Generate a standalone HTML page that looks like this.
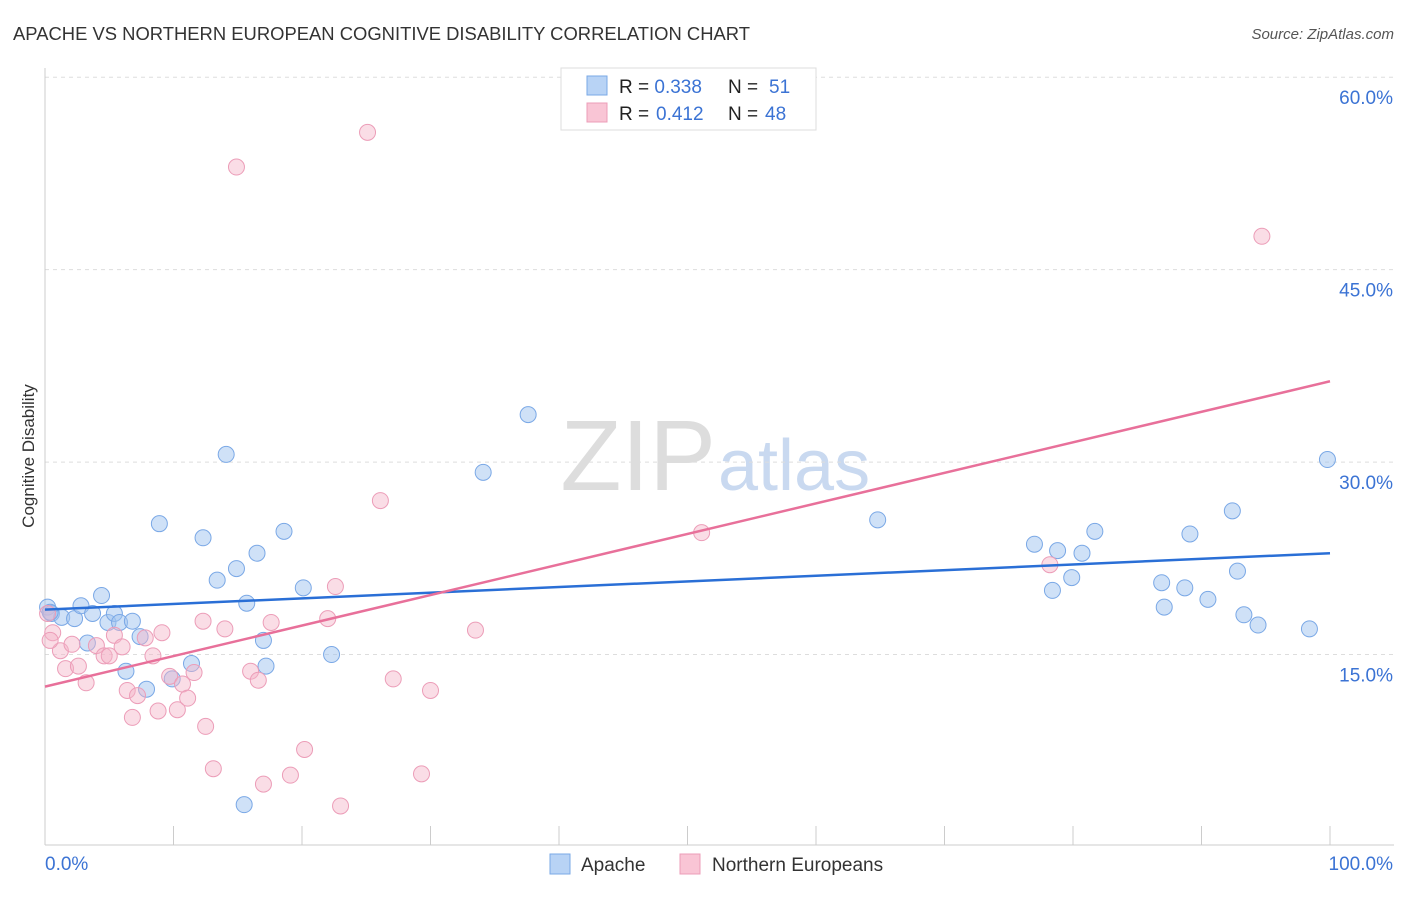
<!DOCTYPE html>
<html><head><meta charset="utf-8">
<style>
body{margin:0;background:#fff;font-family:"Liberation Sans",sans-serif;}
svg text{font-family:"Liberation Sans",sans-serif;}
</style></head>
<body>
<svg id="chart" width="1406" height="892" viewBox="0 0 1406 892" xmlns="http://www.w3.org/2000/svg">
<text x="13" y="40" font-size="18" fill="#333" textLength="737" lengthAdjust="spacingAndGlyphs">APACHE VS NORTHERN EUROPEAN COGNITIVE DISABILITY CORRELATION CHART</text>
<text x="1394" y="39" font-size="15" fill="#555" text-anchor="end" font-style="italic">Source: ZipAtlas.com</text>
<text x="716" y="490" font-size="100" fill="#ddd" text-anchor="end" font-family="Liberation Serif">ZIP</text>
<text x="718" y="490" font-size="72" fill="#c9d9f0">atlas</text>
<text transform="translate(34,456) rotate(-90)" font-size="17" fill="#333" text-anchor="middle">Cognitive Disability</text>
<g id="grid"></g>
<g id="axes"></g>
<g id="pts"></g>
<g id="trend"></g>
<g>
<rect x="561" y="68" width="255" height="62" fill="#fff" stroke="#ddd"/>
<rect x="587" y="76" width="20" height="19" fill="#b8d3f5" stroke="#7aa8e6"/>
<rect x="587" y="103" width="20" height="19" fill="#f9c5d5" stroke="#ec9db8"/>
<text x="619" y="93" font-size="19" fill="#222">R = <tspan fill="#3b73d4">0.338</tspan><tspan x="728">N = </tspan><tspan x="769" fill="#3b73d4">51</tspan></text>
<text x="619" y="120" font-size="19" fill="#222">R = <tspan x="656" fill="#3b73d4">0.412</tspan><tspan x="728">N = </tspan><tspan x="765" fill="#3b73d4">48</tspan></text>
</g>
<g>
<rect x="550" y="854" width="20" height="20" fill="#b8d3f5" stroke="#7aa8e6"/>
<text x="581" y="871" font-size="19" fill="#333">Apache</text>
<rect x="680" y="854" width="20" height="20" fill="#f9c5d5" stroke="#ec9db8"/>
<text x="712" y="871" font-size="19" fill="#333">Northern Europeans</text>
</g>
</svg>
<script>
const yTicks=[15,30,45,60];
const yTickLabels=["15.0%","30.0%","45.0%","60.0%"];
const xTickLabels=["0.0%","100.0%"];
const apacheX=[0.2,0.5,1.3,2.3,2.8,3.3,3.7,4.4,4.9,5.4,5.8,6.3,6.8,7.4,7.9,8.9,9.9,11.4,12.3,13.4,14.1,14.9,15.5,16.5,17.0,17.2,15.7,18.6,20.1,22.3,34.1,37.6,64.8,77.0,78.4,78.8,79.9,80.7,81.7,86.9,87.1,88.7,89.1,90.5,92.4,92.8,93.3,94.4,98.4,99.8,0.4];
const apacheY=[18.7,18.2,17.9,17.8,18.8,15.9,18.2,19.6,17.5,18.2,17.5,13.7,17.6,16.4,12.3,25.2,13.1,14.3,24.1,20.8,30.6,21.7,3.3,22.9,16.1,14.1,19.0,24.6,20.2,15.0,29.2,33.7,25.5,23.6,20.0,23.1,21.0,22.9,24.6,20.6,18.7,20.2,24.4,19.3,26.2,21.5,18.1,17.3,17.0,30.2,18.3];
const northX=[0.2,0.6,1.2,1.6,2.1,2.6,3.2,4.0,4.6,5.0,5.4,6.0,6.4,6.8,7.2,7.8,8.4,8.8,9.1,9.7,10.3,10.7,11.1,11.6,12.3,12.5,13.1,14.0,14.9,16.0,16.6,17.0,17.6,19.1,20.2,22.0,22.6,23.0,25.1,26.1,27.1,29.3,30.0,33.5,51.1,78.2,94.7,0.4];
const northY=[18.2,16.7,15.3,13.9,15.8,14.1,12.8,15.7,14.9,14.9,16.5,15.6,12.2,10.1,11.8,16.3,14.9,10.6,16.7,13.3,10.7,12.7,11.6,13.6,17.6,9.4,6.1,17.0,53.0,13.7,13.0,4.9,17.5,5.6,7.6,17.8,20.3,3.2,55.7,27.0,13.1,5.7,12.2,16.9,24.5,22.0,47.6,16.1];
const apacheTrend=[18.5,22.9];
const northTrend=[12.5,36.3];
const NS="http://www.w3.org/2000/svg";
const X=v=>45+v*12.85, Y=v=>847-v*12.83;
function mk(tag,attrs,parent){const e=document.createElementNS(NS,tag);for(const k in attrs)e.setAttribute(k,attrs[k]);document.getElementById(parent).appendChild(e);return e;}
yTicks.forEach((t,i)=>{
 const l=mk('line',{x1:45,x2:1394,y1:Y(t),y2:Y(t),stroke:'#ddd','stroke-dasharray':'4,4'},'grid');
 
 
 const tx=mk('text',{x:1393,y:Y(t)+27,'font-size':19,fill:'#3b73d4','text-anchor':'end'},'grid');
 tx.textContent=yTickLabels[i];
 
 
});
mk('line',{x1:45,x2:45,y1:68,y2:845,stroke:'#ccc'},'axes');
mk('line',{x1:45,x2:1394,y1:845,y2:845,stroke:'#ccc'},'axes');
for(let i=1;i<=10;i++){const t=mk('line',{x1:X(i*10),x2:X(i*10),y1:826,y2:845,stroke:'#ccc'},'axes');}
const xl0=mk('text',{x:45,y:870,'font-size':19,fill:'#3b73d4'},'axes');xl0.textContent=xTickLabels[0];


const xl1=mk('text',{x:1393,y:870,'font-size':19,fill:'#3b73d4','text-anchor':'end'},'axes');xl1.textContent=xTickLabels[1];


apacheX.forEach((v,i)=>{const c=mk('circle',{cx:X(v),cy:Y(apacheY[i]),r:8,fill:'rgba(160,195,240,0.5)',stroke:'#7aa8e6','stroke-width':1},'pts');
 
 });
northX.forEach((v,i)=>{const c=mk('circle',{cx:X(v),cy:Y(northY[i]),r:8,fill:'rgba(245,180,200,0.45)',stroke:'#ec9db8','stroke-width':1},'pts');
 
 });
const ta=mk('line',{x1:X(0),y1:Y(apacheTrend[0]),x2:X(100),y2:Y(apacheTrend[1]),stroke:'#2a6fd6','stroke-width':2.5},'trend');


const tn=mk('line',{x1:X(0),y1:Y(northTrend[0]),x2:X(100),y2:Y(northTrend[1]),stroke:'#e8709a','stroke-width':2.5},'trend');


</script>
</body></html>
